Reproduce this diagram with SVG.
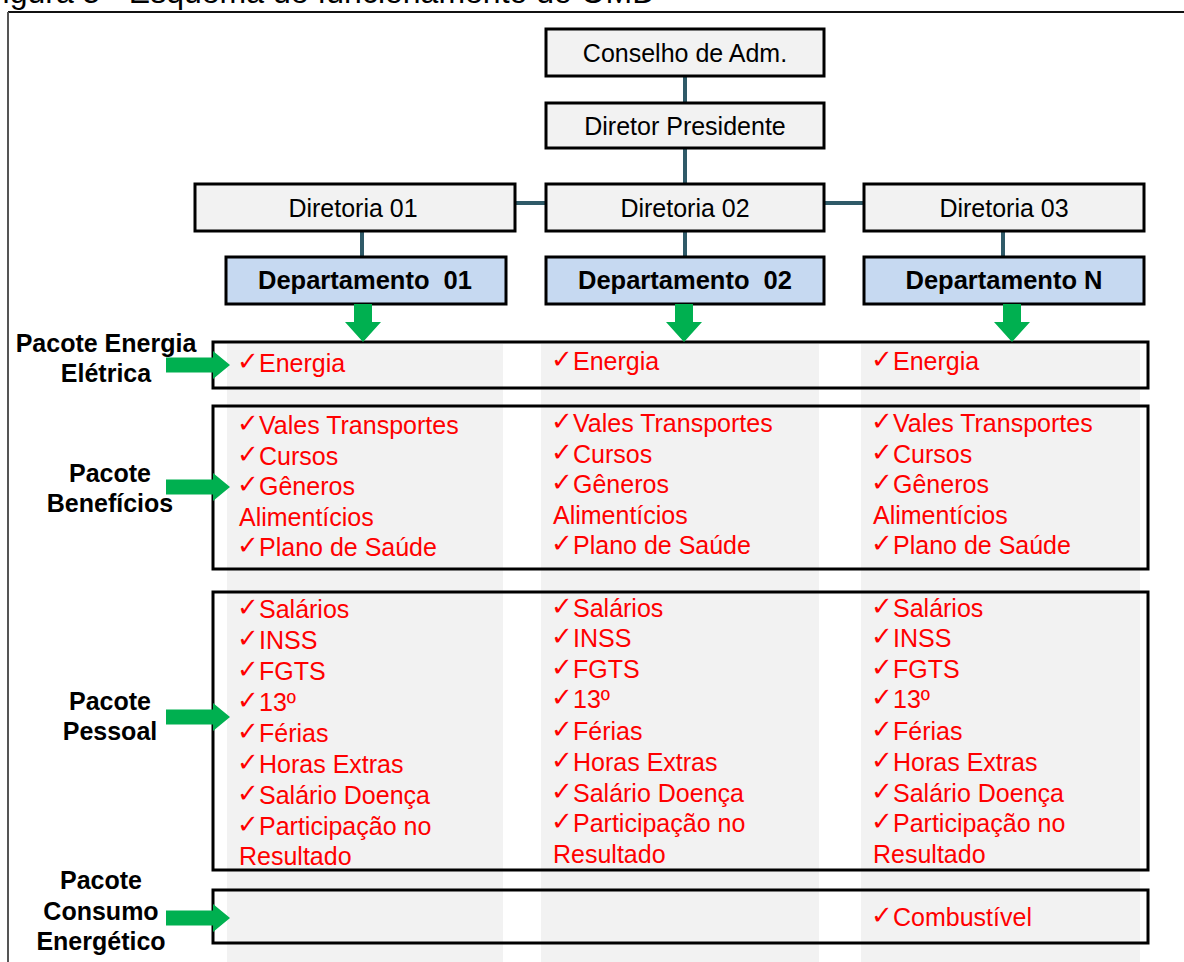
<svg xmlns="http://www.w3.org/2000/svg" width="1184" height="962" viewBox="0 0 1184 962">
  <style>
    .org { fill: #f2f2f2; stroke: #000; stroke-width: 3; }
    .dept { fill: #c6d9f1; stroke: #000; stroke-width: 3; }
    .pkg { fill: none; stroke: #000; stroke-width: 3; }
    .col { fill: #f2f2f2; }
    .lbl { font-family: "Liberation Sans", Arial, sans-serif; font-size: 25px; fill: #000; text-anchor: middle; }
    .dlbl { font-family: "Liberation Sans", Arial, sans-serif; font-size: 25.5px; font-weight: bold; fill: #000; text-anchor: middle; }
    .side { font-family: "Liberation Sans", Arial, sans-serif; font-size: 25px; font-weight: bold; fill: #000; text-anchor: middle; }
    .item { font-family: "Liberation Sans", Arial, sans-serif; font-size: 25px; fill: #ff0000; }
    .ck { font-family: "DejaVu Sans", sans-serif; font-size: 26px; baseline-shift: 2px; }
    .link { stroke: #2f5a68; stroke-width: 4; fill: none; }
    .arrow { fill: #00b050; }
  </style>

  <!-- caption (cut at the top edge) -->
  <text x="-17" y="3" font-family="Liberation Sans, Arial, sans-serif" font-size="32" fill="#000">Figura 5 - Esquema de funcionamento do OMD</text>

  <!-- frame -->
  <line x1="8" y1="12" x2="1184" y2="12" stroke="#111" stroke-width="2"/>
  <line x1="8" y1="12" x2="8" y2="962" stroke="#555" stroke-width="2"/>

  <!-- department columns -->
  <g id="columns">
    <rect class="col" x="227" y="344" width="276" height="618"/>
    <rect class="col" x="541" y="344" width="278" height="618"/>
    <rect class="col" x="861" y="344" width="279" height="618"/>
  </g>

  <!-- connectors -->
  <g id="connectors">
    <line class="link" x1="685" y1="76" x2="685" y2="103"/>
    <line class="link" x1="685" y1="148" x2="685" y2="184"/>
    <line class="link" x1="515" y1="203" x2="546" y2="203"/>
    <line class="link" x1="824" y1="203" x2="864" y2="203"/>
    <line class="link" x1="362" y1="231" x2="362" y2="257"/>
    <line class="link" x1="685" y1="231" x2="685" y2="257"/>
    <line class="link" x1="1003" y1="231" x2="1003" y2="257"/>
  </g>

  <!-- hierarchy -->
  <g id="conselho">
    <rect class="org" x="546" y="29" width="278" height="47"/>
    <text class="lbl" x="685" y="62">Conselho de Adm.</text>
  </g>
  <g id="diretor-presidente">
    <rect class="org" x="546" y="103" width="278" height="45"/>
    <text class="lbl" x="685" y="135">Diretor Presidente</text>
  </g>
  <g id="diretoria-01">
    <rect class="org" x="195" y="184" width="320" height="47"/>
    <text class="lbl" x="353" y="217">Diretoria 01</text>
  </g>
  <g id="diretoria-02">
    <rect class="org" x="546" y="184" width="278" height="47"/>
    <text class="lbl" x="685" y="217">Diretoria 02</text>
  </g>
  <g id="diretoria-03">
    <rect class="org" x="864" y="184" width="280" height="47"/>
    <text class="lbl" x="1004" y="217">Diretoria 03</text>
  </g>
  <g id="departamento-01">
    <rect class="dept" x="226" y="257" width="280" height="47"/>
    <text class="dlbl" x="365" y="289" xml:space="preserve">Departamento  01</text>
  </g>
  <g id="departamento-02">
    <rect class="dept" x="546" y="257" width="278" height="47"/>
    <text class="dlbl" x="685" y="289" xml:space="preserve">Departamento  02</text>
  </g>
  <g id="departamento-n">
    <rect class="dept" x="864" y="257" width="280" height="47"/>
    <text class="dlbl" x="1004" y="289">Departamento N</text>
  </g>

  <!-- packages -->
  <g id="pacote-energia">
    <rect class="pkg" x="213" y="342" width="935" height="46"/>
    <text class="item" y="372"><tspan class="ck" x="237">✓</tspan><tspan x="259">Energia</tspan></text>
    <text class="item" y="370"><tspan class="ck" x="551">✓</tspan><tspan x="573">Energia</tspan></text>
    <text class="item" y="370"><tspan class="ck" x="871">✓</tspan><tspan x="893">Energia</tspan></text>
  </g>

  <g id="pacote-beneficios">
    <rect class="pkg" x="213" y="406" width="935" height="163"/>
    <text class="item" y="434"><tspan class="ck" x="237">✓</tspan><tspan x="259">Vales Transportes</tspan></text>
    <text class="item" y="465"><tspan class="ck" x="237">✓</tspan><tspan x="259">Cursos</tspan></text>
    <text class="item" y="495"><tspan class="ck" x="237">✓</tspan><tspan x="259">Gêneros</tspan></text>
    <text class="item" x="239" y="526">Alimentícios</text>
    <text class="item" y="556"><tspan class="ck" x="237">✓</tspan><tspan x="259">Plano de Saúde</tspan></text>

    <text class="item" y="432"><tspan class="ck" x="551">✓</tspan><tspan x="573">Vales Transportes</tspan></text>
    <text class="item" y="463"><tspan class="ck" x="551">✓</tspan><tspan x="573">Cursos</tspan></text>
    <text class="item" y="493"><tspan class="ck" x="551">✓</tspan><tspan x="573">Gêneros</tspan></text>
    <text class="item" x="553" y="524">Alimentícios</text>
    <text class="item" y="554"><tspan class="ck" x="551">✓</tspan><tspan x="573">Plano de Saúde</tspan></text>

    <text class="item" y="432"><tspan class="ck" x="871">✓</tspan><tspan x="893">Vales Transportes</tspan></text>
    <text class="item" y="463"><tspan class="ck" x="871">✓</tspan><tspan x="893">Cursos</tspan></text>
    <text class="item" y="493"><tspan class="ck" x="871">✓</tspan><tspan x="893">Gêneros</tspan></text>
    <text class="item" x="873" y="524">Alimentícios</text>
    <text class="item" y="554"><tspan class="ck" x="871">✓</tspan><tspan x="893">Plano de Saúde</tspan></text>
  </g>

  <g id="pacote-pessoal">
    <rect class="pkg" x="213" y="592" width="935" height="278"/>
    <text class="item" y="618"><tspan class="ck" x="237">✓</tspan><tspan x="259">Salários</tspan></text>
    <text class="item" y="649"><tspan class="ck" x="237">✓</tspan><tspan x="259">INSS</tspan></text>
    <text class="item" y="680"><tspan class="ck" x="237">✓</tspan><tspan x="259">FGTS</tspan></text>
    <text class="item" y="711"><tspan class="ck" x="237">✓</tspan><tspan x="259">13º</tspan></text>
    <text class="item" y="742"><tspan class="ck" x="237">✓</tspan><tspan x="259">Férias</tspan></text>
    <text class="item" y="773"><tspan class="ck" x="237">✓</tspan><tspan x="259">Horas Extras</tspan></text>
    <text class="item" y="804"><tspan class="ck" x="237">✓</tspan><tspan x="259">Salário Doença</tspan></text>
    <text class="item" y="835"><tspan class="ck" x="237">✓</tspan><tspan x="259">Participação no</tspan></text>
    <text class="item" x="239" y="865">Resultado</text>

    <text class="item" y="617"><tspan class="ck" x="551">✓</tspan><tspan x="573">Salários</tspan></text>
    <text class="item" y="647"><tspan class="ck" x="551">✓</tspan><tspan x="573">INSS</tspan></text>
    <text class="item" y="678"><tspan class="ck" x="551">✓</tspan><tspan x="573">FGTS</tspan></text>
    <text class="item" y="708"><tspan class="ck" x="551">✓</tspan><tspan x="573">13º</tspan></text>
    <text class="item" y="740"><tspan class="ck" x="551">✓</tspan><tspan x="573">Férias</tspan></text>
    <text class="item" y="771"><tspan class="ck" x="551">✓</tspan><tspan x="573">Horas Extras</tspan></text>
    <text class="item" y="802"><tspan class="ck" x="551">✓</tspan><tspan x="573">Salário Doença</tspan></text>
    <text class="item" y="832"><tspan class="ck" x="551">✓</tspan><tspan x="573">Participação no</tspan></text>
    <text class="item" x="553" y="863">Resultado</text>

    <text class="item" y="617"><tspan class="ck" x="871">✓</tspan><tspan x="893">Salários</tspan></text>
    <text class="item" y="647"><tspan class="ck" x="871">✓</tspan><tspan x="893">INSS</tspan></text>
    <text class="item" y="678"><tspan class="ck" x="871">✓</tspan><tspan x="893">FGTS</tspan></text>
    <text class="item" y="708"><tspan class="ck" x="871">✓</tspan><tspan x="893">13º</tspan></text>
    <text class="item" y="740"><tspan class="ck" x="871">✓</tspan><tspan x="893">Férias</tspan></text>
    <text class="item" y="771"><tspan class="ck" x="871">✓</tspan><tspan x="893">Horas Extras</tspan></text>
    <text class="item" y="802"><tspan class="ck" x="871">✓</tspan><tspan x="893">Salário Doença</tspan></text>
    <text class="item" y="832"><tspan class="ck" x="871">✓</tspan><tspan x="893">Participação no</tspan></text>
    <text class="item" x="873" y="863">Resultado</text>
  </g>

  <g id="pacote-consumo">
    <rect class="pkg" x="213" y="890" width="935" height="53"/>
    <text class="item" y="926"><tspan class="ck" x="871">✓</tspan><tspan x="893">Combustível</tspan></text>
  </g>

  <!-- side labels -->
  <g id="label-energia">
    <text class="side" x="106" y="352">Pacote Energia</text>
    <text class="side" x="106" y="382">Elétrica</text>
  </g>
  <g id="label-beneficios">
    <text class="side" x="110" y="482">Pacote</text>
    <text class="side" x="110" y="512">Benefícios</text>
  </g>
  <g id="label-pessoal">
    <text class="side" x="110" y="710">Pacote</text>
    <text class="side" x="110" y="740">Pessoal</text>
  </g>
  <g id="label-consumo">
    <text class="side" x="101" y="889">Pacote</text>
    <text class="side" x="101" y="920">Consumo</text>
    <text class="side" x="101" y="950">Energético</text>
  </g>

  <!-- green arrows: departments down into packages -->
  <g id="arrows-down">
    <polygon class="arrow" points="354,304 372,304 372,322 381,322 363,342 345,322 354,322"/>
    <polygon class="arrow" points="675,304 693,304 693,322 702,322 684,342 666,322 675,322"/>
    <polygon class="arrow" points="1003,304 1021,304 1021,322 1030,322 1012,342 994,322 1003,322"/>
  </g>

  <!-- green arrows: labels into packages -->
  <g id="arrows-side">
    <polygon class="arrow" points="166,357.5 213,357.5 213,351 230,365 213,379 213,372.5 166,372.5"/>
    <polygon class="arrow" points="166,479.5 213,479.5 213,473 230,487 213,501 213,494.5 166,494.5"/>
    <polygon class="arrow" points="166,709.5 213,709.5 213,703 230,717 213,731 213,724.5 166,724.5"/>
    <polygon class="arrow" points="166,910.5 213,910.5 213,904 230,918 213,932 213,925.5 166,925.5"/>
  </g>
</svg>
